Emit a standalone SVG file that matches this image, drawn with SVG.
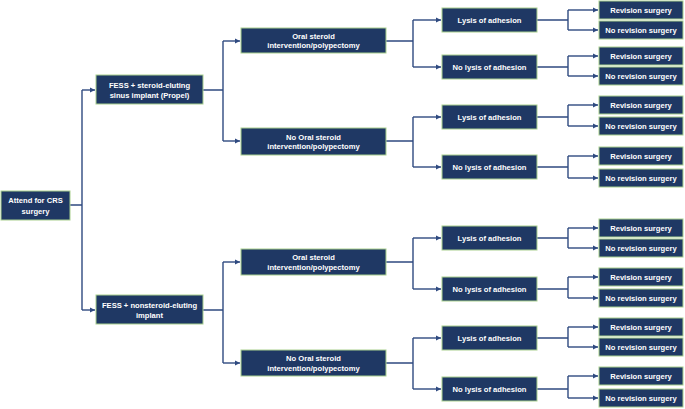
<svg xmlns="http://www.w3.org/2000/svg" width="685" height="409" viewBox="0 0 685 409">
<defs>
<style>
.b{fill:#1f3864;stroke:#a9d08e;stroke-width:1}
.t{font-family:"Liberation Sans",Arial,sans-serif;font-weight:bold;font-size:7.6px;fill:#ffffff;text-anchor:middle}
.c{fill:none;stroke:#2f4a80;stroke-width:1.4}
.a{fill:none;stroke:#2f4a80;stroke-width:1.4;marker-end:url(#ah)}
</style>
<marker id="ah" markerWidth="6" markerHeight="6" refX="5" refY="3" orient="auto" markerUnits="userSpaceOnUse">
<path d="M0,0.5 L5,3 L0,5.5 z" fill="#2f4a80"/>
</marker>
</defs>
<rect width="685" height="409" fill="#ffffff"/>
<g id="connectors">
<path class="c" d="M70,205 H82 M82,90 V310"/>
<path class="a" d="M82,90 H95"/>
<path class="a" d="M82,310 H95"/>
<path class="c" d="M203,90 H223 M223,41 V141"/>
<path class="a" d="M223,41 H240"/>
<path class="a" d="M223,141 H240"/>
<path class="c" d="M203,310 H223 M223,262 V363"/>
<path class="a" d="M223,262 H240"/>
<path class="a" d="M223,363 H240"/>
<path class="c" d="M386,41 H413 M413,20 V67"/>
<path class="a" d="M413,20 H441"/>
<path class="a" d="M413,67 H441"/>
<path class="c" d="M386,141 H413 M413,117 V167"/>
<path class="a" d="M413,117 H441"/>
<path class="a" d="M413,167 H441"/>
<path class="c" d="M386,262 H413 M413,238 V289"/>
<path class="a" d="M413,238 H441"/>
<path class="a" d="M413,289 H441"/>
<path class="c" d="M386,363 H413 M413,338 V389"/>
<path class="a" d="M413,338 H441"/>
<path class="a" d="M413,389 H441"/>
<path class="c" d="M537,20 H568 M568,10 V30"/>
<path class="a" d="M568,10 H598"/>
<path class="a" d="M568,30 H598"/>
<path class="c" d="M537,67 H568 M568,56 V76"/>
<path class="a" d="M568,56 H598"/>
<path class="a" d="M568,76 H598"/>
<path class="c" d="M537,117 H568 M568,105 V126"/>
<path class="a" d="M568,105 H598"/>
<path class="a" d="M568,126 H598"/>
<path class="c" d="M537,167 H568 M568,156 V178"/>
<path class="a" d="M568,156 H598"/>
<path class="a" d="M568,178 H598"/>
<path class="c" d="M537,238 H568 M568,228 V248"/>
<path class="a" d="M568,228 H598"/>
<path class="a" d="M568,248 H598"/>
<path class="c" d="M537,289 H568 M568,277 V298"/>
<path class="a" d="M568,277 H598"/>
<path class="a" d="M568,298 H598"/>
<path class="c" d="M537,338 H568 M568,327 V347"/>
<path class="a" d="M568,327 H598"/>
<path class="a" d="M568,347 H598"/>
<path class="c" d="M537,389 H568 M568,376 V398"/>
<path class="a" d="M568,376 H598"/>
<path class="a" d="M568,398 H598"/>
</g>
<g id="root"><rect class="b" x="1" y="191" width="69" height="29"/><text class="t" x="35.5" y="203.3">Attend for CRS</text><text class="t" x="35.5" y="213.5">surgery</text></g>
<g id="fess1"><rect class="b" x="96" y="75" width="107" height="29"/><text class="t" x="149.5" y="88">FESS + steroid-eluting</text><text class="t" x="149.5" y="97.5">sinus implant (Propel)</text></g>
<g id="fess2"><rect class="b" x="96" y="295" width="107" height="29"/><text class="t" x="149.5" y="308">FESS + nonsteroid-eluting</text><text class="t" x="149.5" y="317.5">implant</text></g>
<g id="oral1"><rect class="b" x="241" y="28" width="145" height="25"/><text class="t" x="313.5" y="38.5">Oral steroid</text><text class="t" x="313.5" y="48">intervention/polypectomy</text></g>
<g id="nooral1"><rect class="b" x="241" y="128" width="145" height="27"/><text class="t" x="313.5" y="139.5">No Oral steroid</text><text class="t" x="313.5" y="149">intervention/polypectomy</text></g>
<g id="oral2"><rect class="b" x="241" y="249" width="145" height="26"/><text class="t" x="313.5" y="260">Oral steroid</text><text class="t" x="313.5" y="269.5">intervention/polypectomy</text></g>
<g id="nooral2"><rect class="b" x="241" y="350" width="145" height="26"/><text class="t" x="313.5" y="361">No Oral steroid</text><text class="t" x="313.5" y="370.5">intervention/polypectomy</text></g>
<g id="lysis1"><rect class="b" x="442" y="8" width="95" height="24"/><text class="t" x="489.5" y="22.7">Lysis of adhesion</text></g>
<g id="nolysis1"><rect class="b" x="442" y="55" width="95" height="24"/><text class="t" x="489.5" y="69.7">No lysis of adhesion</text></g>
<g id="lysis2"><rect class="b" x="442" y="105" width="95" height="24"/><text class="t" x="489.5" y="119.7">Lysis of adhesion</text></g>
<g id="nolysis2"><rect class="b" x="442" y="155" width="95" height="24"/><text class="t" x="489.5" y="169.7">No lysis of adhesion</text></g>
<g id="lysis3"><rect class="b" x="442" y="226" width="95" height="24"/><text class="t" x="489.5" y="240.7">Lysis of adhesion</text></g>
<g id="nolysis3"><rect class="b" x="442" y="277" width="95" height="24"/><text class="t" x="489.5" y="291.7">No lysis of adhesion</text></g>
<g id="lysis4"><rect class="b" x="442" y="326" width="95" height="24"/><text class="t" x="489.5" y="340.7">Lysis of adhesion</text></g>
<g id="nolysis4"><rect class="b" x="442" y="377" width="95" height="24"/><text class="t" x="489.5" y="391.7">No lysis of adhesion</text></g>
<g id="rev1"><rect class="b" x="599" y="1" width="84" height="18"/><text class="t" x="641" y="12.7">Revision surgery</text></g>
<g id="norev1"><rect class="b" x="599" y="21" width="84" height="18"/><text class="t" x="641" y="32.7">No revision surgery</text></g>
<g id="rev2"><rect class="b" x="599" y="47" width="84" height="18"/><text class="t" x="641" y="58.7">Revision surgery</text></g>
<g id="norev2"><rect class="b" x="599" y="67" width="84" height="18"/><text class="t" x="641" y="78.7">No revision surgery</text></g>
<g id="rev3"><rect class="b" x="599" y="96" width="84" height="18"/><text class="t" x="641" y="107.7">Revision surgery</text></g>
<g id="norev3"><rect class="b" x="599" y="117" width="84" height="18"/><text class="t" x="641" y="128.7">No revision surgery</text></g>
<g id="rev4"><rect class="b" x="599" y="147" width="84" height="18"/><text class="t" x="641" y="158.7">Revision surgery</text></g>
<g id="norev4"><rect class="b" x="599" y="169" width="84" height="18"/><text class="t" x="641" y="180.7">No revision surgery</text></g>
<g id="rev5"><rect class="b" x="599" y="219" width="84" height="18"/><text class="t" x="641" y="230.7">Revision surgery</text></g>
<g id="norev5"><rect class="b" x="599" y="239" width="84" height="18"/><text class="t" x="641" y="250.7">No revision surgery</text></g>
<g id="rev6"><rect class="b" x="599" y="268" width="84" height="18"/><text class="t" x="641" y="279.7">Revision surgery</text></g>
<g id="norev6"><rect class="b" x="599" y="289" width="84" height="18"/><text class="t" x="641" y="300.7">No revision surgery</text></g>
<g id="rev7"><rect class="b" x="599" y="318" width="84" height="18"/><text class="t" x="641" y="329.7">Revision surgery</text></g>
<g id="norev7"><rect class="b" x="599" y="338" width="84" height="18"/><text class="t" x="641" y="349.7">No revision surgery</text></g>
<g id="rev8"><rect class="b" x="599" y="367" width="84" height="18"/><text class="t" x="641" y="378.7">Revision surgery</text></g>
<g id="norev8"><rect class="b" x="599" y="389" width="84" height="18"/><text class="t" x="641" y="400.7">No revision surgery</text></g>
</svg>
